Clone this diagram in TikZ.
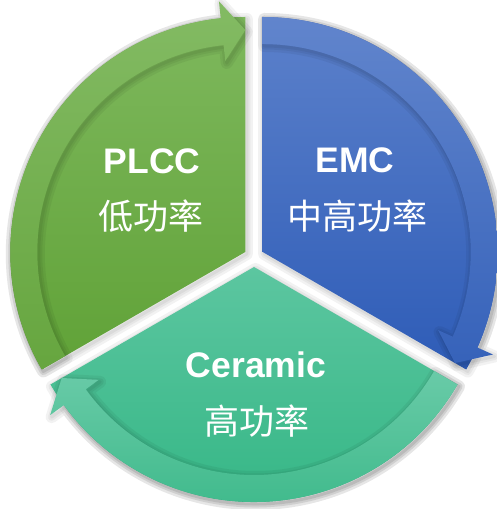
\documentclass[tikz,border=0pt]{standalone}
\usepackage{fontspec}
\setmainfont{Liberation Sans}
\newfontfamily\cjk{Noto Sans CJK SC}
\usetikzlibrary{calc}
\definecolor{plccTop}{HTML}{7EB85D}
\definecolor{plccBot}{HTML}{60A237}
\definecolor{emcTop}{HTML}{5C81CB}
\definecolor{emcBot}{HTML}{2E5CB7}
\definecolor{cerTop}{HTML}{5CC6A0}
\definecolor{cerBot}{HTML}{31B583}
\def\sector[#1](#2)(#3:#4){\begin{scope}[shift={(#2)}]\path[#1] (0,0) -- (#3:235pt) arc (#3:#4:235pt) -- cycle;\end{scope}}
\def\ringarrow[#1](#2)(#3:#4:#5){\begin{scope}[shift={(#2)}]\path[#1] (#3:235pt) arc (#3:#4:235pt) -- (#4:252pt) -- (#5:222pt) -- (#4:192pt) -- (#4:208pt) arc (#4:#3:208pt) -- cycle;\end{scope}}
\tikzset{
	shadowline/.style={draw=black, draw opacity=0.05, line width=#1, line join=round, xshift=1.5pt, yshift=-2pt},
	title/.style={text=white, font=\bfseries\fontsize{35.5}{35.5}\selectfont, anchor=base, inner sep=0pt},
	subtitle/.style={text=white, font=\cjk\fontsize{35}{35}\selectfont, anchor=base, inner sep=0pt}
}

\begin{document}
\begin{tikzpicture}[x=1pt, y=1pt]
		%%%%% START %%%%%
		\useasboundingbox (0, 0) rectangle (496, 509);
		
		\coordinate (gc) at (245.3, 257);
		\coordinate (bc) at (262.7, 257);
		\coordinate (tc) at (254, 242);
		
		% soft shadows of the slices
		\sector[shadowline=12pt](gc)(210:90);
		\sector[shadowline=7pt](gc)(210:90);
		\sector[shadowline=3pt](gc)(210:90);
		\sector[shadowline=12pt](bc)(90:-30);
		\sector[shadowline=7pt](bc)(90:-30);
		\sector[shadowline=3pt](bc)(90:-30);
		\sector[shadowline=12pt](tc)(330:210);
		\sector[shadowline=7pt](tc)(330:210);
		\sector[shadowline=3pt](tc)(330:210);
		
		% slices
		\sector[top color=plccTop, bottom color=plccBot](gc)(210:90);
		\sector[top color=emcTop, bottom color=emcBot](bc)(90:-30);
		\sector[top color=cerTop, bottom color=cerBot](tc)(330:210);
		
		% arrows round the rim
		\ringarrow[shadowline=12pt](gc)(210:96:90);
		\ringarrow[shadowline=7pt](gc)(210:96:90);
		\ringarrow[shadowline=3pt](gc)(210:96:90);
		\ringarrow[top color=plccTop!96!white, bottom color=plccBot!96!white](gc)(210:96:90);
		
		\ringarrow[shadowline=12pt](bc)(90:-24:-30);
		\ringarrow[shadowline=7pt](bc)(90:-24:-30);
		\ringarrow[shadowline=3pt](bc)(90:-24:-30);
		\ringarrow[top color=emcTop!97!white, bottom color=emcBot!96!white](bc)(90:-24:-30);
		
		\ringarrow[shadowline=12pt](tc)(330:216:210);
		\ringarrow[shadowline=7pt](tc)(330:216:210);
		\ringarrow[shadowline=3pt](tc)(330:216:210);
		\ringarrow[top color=cerTop!92!white, bottom color=cerBot!92!white](tc)(330:216:210);
		
		% labels
		\node[title] (plcc) at (152, 335) {PLCC};
		\node[subtitle] (plccsub) at (151, 279) {\cjk 低功率};
		\node[title] (emc) at (355, 336) {EMC};
		\node[subtitle] (emcsub) at (357, 279) {\cjk 中高功率};
		\node[title] (cer) at (256, 131) {Ceramic};
		\node[subtitle] (cersub) at (257, 74.5) {\cjk 高功率};
		
		%%%%% END %%%%%
	\end{tikzpicture}
\end{document}
